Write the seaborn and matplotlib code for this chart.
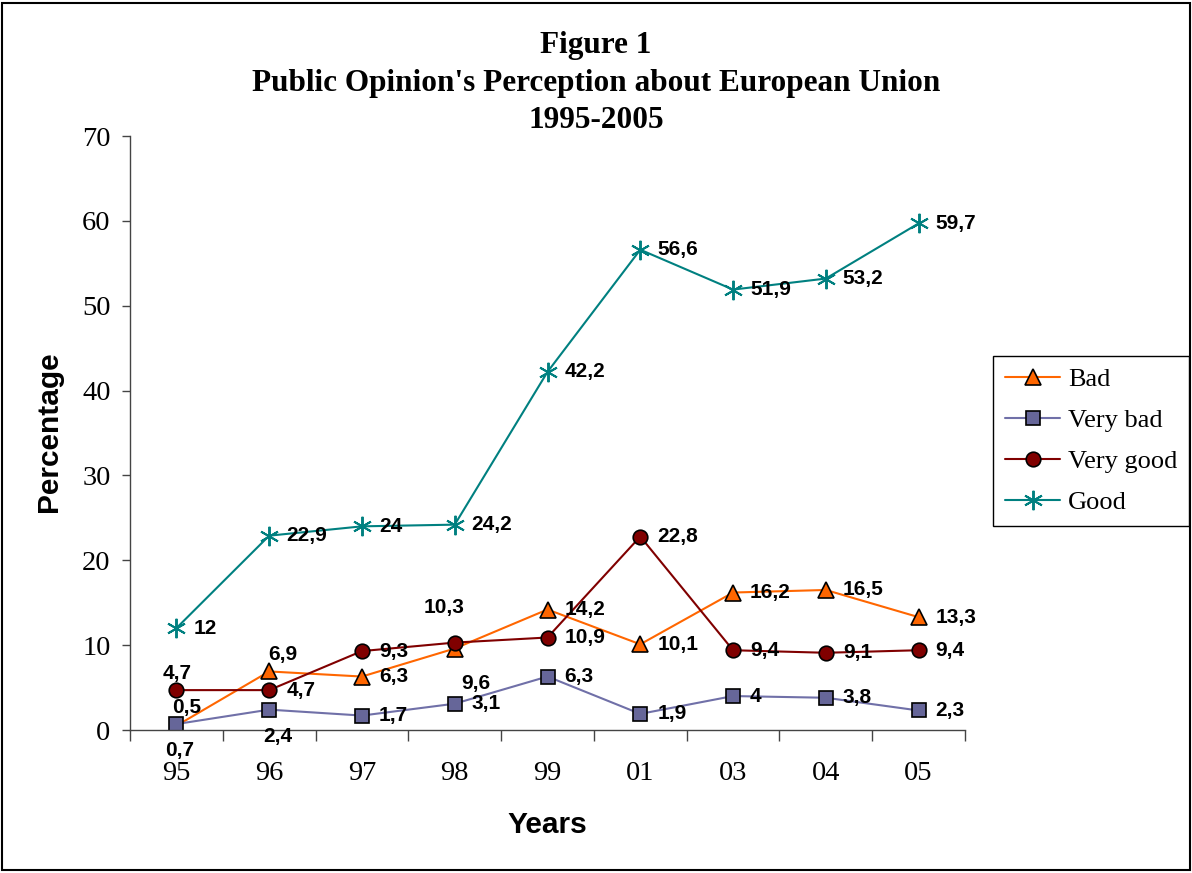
import matplotlib
matplotlib.use("Agg")
import matplotlib.pyplot as plt
from matplotlib.patches import Rectangle
import seaborn as sns
import pandas as pd

# data
years = ["95", "96", "97", "98", "99", "01", "03", "04", "05"]
bad = [0.5, 6.9, 6.3, 9.6, 14.2, 10.1, 16.2, 16.5, 13.3]
very_bad = [0.7, 2.4, 1.7, 3.1, 6.3, 1.9, 4, 3.8, 2.3]
very_good = [4.7, 4.7, 9.3, 10.3, 10.9, 22.8, 9.4, 9.1, 9.4]
good = [12, 22.9, 24, 24.2, 42.2, 56.6, 51.9, 53.2, 59.7]

series = [
    ("Bad", bad, "#FF6600", "#FF6600", "^", 11),
    ("Very bad", very_bad, "#7070A8", "#666699", "s", 10.5),
    ("Very good", very_good, "#800000", "#800000", "o", 10.5),
    ("Good", good, "#008080", "#008080", (6, 2, 0), 14),
]

# label placement: offset in pixels from the point, default is to the right
label_offsets = {
    ("Bad", 0): (10, 18, "center"),
    ("Bad", 1): (14, 17, "center"),
    ("Bad", 3): (21, -35, "center"),
    ("Very bad", 0): (3, -26, "center"),
    ("Very bad", 1): (9, -27, "center"),
    ("Very good", 0): (1, 17, "center"),
    ("Very good", 3): (-11, 35, "center"),
}

sns.set_style("white")
plt.rcParams["font.family"] = ["Liberation Serif", "DejaVu Serif"]
plt.rcParams["text.color"] = "black"
plt.rcParams["axes.labelcolor"] = "black"
plt.rcParams["xtick.color"] = "black"
plt.rcParams["ytick.color"] = "black"

fig = plt.figure(figsize=(11.92, 8.73), dpi=100)
ax = fig.add_axes([130 / 1192, 1 - 730 / 873, 835 / 1192, 594 / 873])

pos = list(range(len(years)))
for name, vals, lc, fc, mk, ms in series:
    df = pd.DataFrame({"pos": pos, "val": vals})
    sns.lineplot(data=df, x="pos", y="val", ax=ax, color=lc, linewidth=1.5,
                 marker=mk, markersize=ms, markerfacecolor=fc,
                 markeredgecolor="black" if name != "Good" else lc,
                 markeredgewidth=1.2 if name != "Good" else 1.4,
                 label=name, sort=False)
    for i, v in enumerate(vals):
        dx, dy, ha = label_offsets.get((name, i), (17, 0, "left"))
        ax.annotate(f"{v:g}".replace(".", ","), (i, v), xytext=(dx, dy),
                    textcoords="offset pixels", ha=ha, va="center",
                    fontsize=15, fontweight="bold", family="Liberation Sans")

ax.set_xlim(-0.5, len(years) - 0.5)
ax.set_ylim(0, 70)
ax.set_yticks(range(0, 71, 10))
ax.set_xticks([p - 0.5 for p in pos] + [len(years) - 0.5])
ax.set_xticklabels([])
ax.set_xticks(pos, minor=True)
ax.set_xticklabels(years, minor=True)
ax.tick_params(axis="x", which="major", direction="out", length=8, width=1, color="#444444")
ax.tick_params(axis="x", which="minor", length=0, pad=22, labelsize=20.5)
ax.tick_params(axis="y", direction="out", length=6, width=1, color="#444444", labelsize=20.5, pad=8)
ax.tick_params(left=True, bottom=True)
for s in ["top", "right"]:
    ax.spines[s].set_visible(False)
for s in ["left", "bottom"]:
    ax.spines[s].set_color("#444444")
    ax.spines[s].set_linewidth(1)

ax.set_xlabel("Years", fontsize=21.5, fontweight="bold", family="Liberation Sans")
ax.set_ylabel("Percentage", fontsize=21.5, fontweight="bold", family="Liberation Sans")
ax.xaxis.set_label_coords(0.5, -0.137)
ax.yaxis.set_label_coords(-0.08, 0.502)

ax.get_legend().remove()
handles, labels = ax.get_legend_handles_labels()
leg = fig.legend(handles, labels, loc="upper left",
                 bbox_to_anchor=(993 / 1192, 1 - 356 / 873), borderaxespad=0,
                 frameon=True, fancybox=False, framealpha=1, edgecolor="black",
                 fontsize=19, handlelength=2.1, labelspacing=0.66,
                 borderpad=0.45, handletextpad=0.3)
leg.get_frame().set_linewidth(1)

fig.text(0.5, 1 - 46 / 873, "Figure 1", ha="center", va="center", fontsize=22.5, fontweight="bold")
fig.text(0.5, 1 - 84 / 873, "Public Opinion's Perception about European Union",
         ha="center", va="center", fontsize=22.5, fontweight="bold")
fig.text(0.5, 1 - 121 / 873, "1995-2005", ha="center", va="center", fontsize=22.5, fontweight="bold")

fig.patches.append(Rectangle((0.002, 0.003), 0.996, 0.994, transform=fig.transFigure,
                             fill=False, edgecolor="black", linewidth=1.5))

fig.savefig("out.png", dpi=100)
